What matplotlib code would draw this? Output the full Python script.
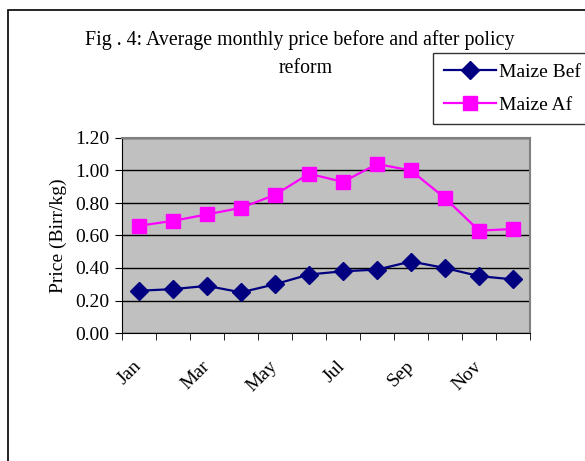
import matplotlib.pyplot as plt
from matplotlib.patches import Rectangle
from matplotlib.transforms import ScaledTranslation

months = ["Jan", "Feb", "Mar", "Apr", "May", "Jun",
          "Jul", "Aug", "Sep", "Oct", "Nov", "Dec"]
maize_bef = [0.26, 0.27, 0.29, 0.25, 0.30, 0.36, 0.38, 0.39, 0.44, 0.40, 0.35, 0.33]
maize_af = [0.66, 0.69, 0.73, 0.77, 0.85, 0.98, 0.93, 1.04, 1.00, 0.83, 0.63, 0.64]
yticks = [0.0, 0.2, 0.4, 0.6, 0.8, 1.0, 1.2]

plt.rcParams['font.family'] = ['Liberation Serif', 'DejaVu Serif']

W, H = 585, 461
fig = plt.figure(figsize=(W / 100, H / 100), dpi=100)
ax = fig.add_axes([122 / W, 1 - 333 / H, 408 / W, 195 / H])
ax.set_facecolor("#c0c0c0")

x = list(range(len(months)))
ax.plot(x, maize_bef, color="#000080", marker="D", markersize=9, linewidth=1.6,
        label="Maize Bef")
ax.plot(x, maize_af, color="#ff00ff", marker="s", markersize=10, linewidth=1.6,
        label="Maize Af")

ax.set_xlim(-0.5, 11.5)
ax.set_ylim(0, 1.2)
ax.set_yticks(yticks)
ax.set_yticklabels([f"{v:.2f}" for v in yticks], fontsize=14)
ax.yaxis.grid(True, color="black", linewidth=1)
ax.set_axisbelow(True)

ax.set_xticks(x[::2])
ax.set_xticklabels(months[::2], rotation=45, ha="right", va="center",
                   rotation_mode="anchor", fontsize=14)
shift = ScaledTranslation(-17 / 100, 0, fig.dpi_scale_trans)
for lab in ax.get_xticklabels():
    lab.set_transform(lab.get_transform() + shift)
ax.set_xticks([i - 0.5 for i in range(13)], minor=True)
ax.tick_params(axis="x", which="major", length=0, pad=22)
ax.tick_params(axis="x", which="minor", length=5, direction="out")
ax.tick_params(axis="y", length=5, direction="out", pad=4)

for s in ["top", "right"]:
    ax.spines[s].set_color("#808080")
    ax.spines[s].set_linewidth(1.5)
for s in ["left", "bottom"]:
    ax.spines[s].set_color("black")

ax.set_ylabel("Price (Birr/kg)", fontsize=14, labelpad=6)

fig.text(300 / W, 1 - 40 / H, "Fig . 4: Average monthly price before and after policy",
         ha="center", va="center", fontsize=14.3)
fig.text(306 / W, 1 - 68 / H, "reform", ha="center", va="center", fontsize=14.3)

leg = fig.legend(loc="upper left", bbox_to_anchor=(433 / W, 1 - 53 / H, 170 / W, 0),
                 mode="expand", fontsize=14, frameon=True, fancybox=False,
                 borderpad=0.55, handlelength=2.7, handletextpad=0.15,
                 labelspacing=0.75, borderaxespad=0)
leg.get_frame().set_edgecolor("black")
leg.get_frame().set_linewidth(1)

# outer chart border
fig.patches.append(Rectangle((8 / W, -0.05), 1.0, 1 - 10 / H + 0.05,
                             transform=fig.transFigure, fill=False,
                             edgecolor="black", linewidth=1.2, clip_on=False))

fig.savefig("out.png", dpi=100)
